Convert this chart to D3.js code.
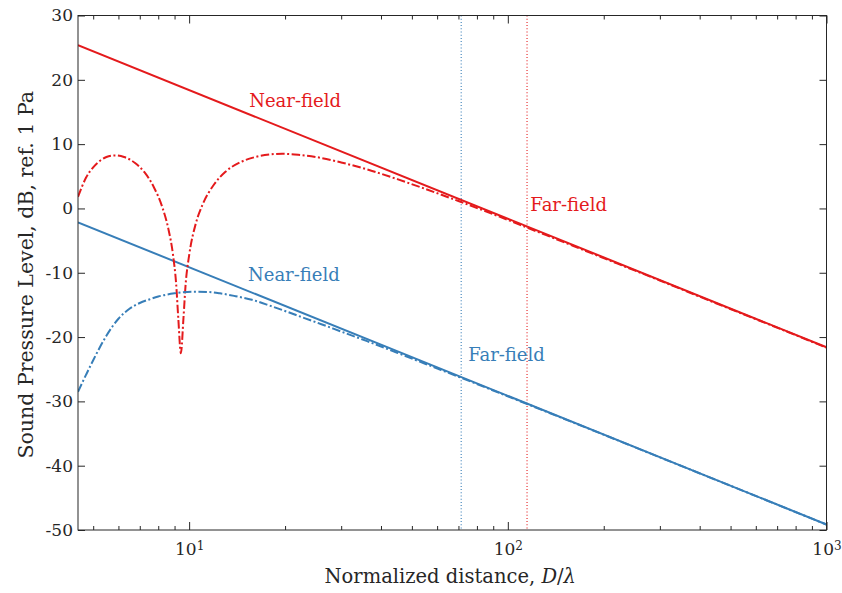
<!DOCTYPE html>
<html>
<head>
<meta charset="utf-8">
<script src="https://cdn.jsdelivr.net/npm/d3@7"></script>
<style>
  body { margin: 0; background: #fff; }
  text { font-family: "DejaVu Serif", serif; fill: #262626; }
</style>
</head>
<body>
<svg id="chart" width="842" height="593"></svg>
<script>
// Normalized on-axis distance D/lambda and sound pressure level (dB re 1 Pa)
const nearRedX  = [4.48, 4.75, 5.0, 5.25, 5.5, 5.86, 6.25, 6.75, 7.25, 7.75, 8.25, 8.6, 8.9, 9.1, 9.25, 9.42, 9.6, 9.75, 10, 10.5, 11, 12, 13, 14.5, 16, 18, 19.6, 22, 25, 30, 36, 45, 55, 70, 90, 120, 160, 220, 300, 450, 650, 1000];
const nearRedDb = [1.8, 4.8, 6.4, 7.4, 8.0, 8.25, 8.0, 7.1, 5.6, 3.3, 0.1, -3.1, -7.2, -11.6, -17.2, -22.5, -17.0, -11.8, -7.3, -2.3, 0.5, 3.8, 5.7, 7.2, 7.95, 8.4, 8.5, 8.35, 8.0, 7.15, 6.1, 4.55, 3.05, 1.15, -0.9, -3.35, -5.8, -8.55, -11.2, -14.75, -17.9, -21.65];

const nearBlueX  = [4.48, 4.75, 5.0, 5.5, 6.0, 6.5, 7.0, 7.5, 8.0, 9.0, 10.2, 11.5, 12.5, 14, 15.74, 18, 20, 23, 26, 30, 36, 45, 55, 70, 90, 120, 160, 220, 300, 450, 650, 1000];
const nearBlueDb = [-28.5, -25.85, -23.6, -19.8, -17.15, -15.6, -14.7, -14.15, -13.7, -13.2, -12.95, -13.0, -13.2, -13.65, -14.2, -15.15, -15.95, -17.05, -18.0, -19.15, -20.6, -22.45, -24.15, -26.17, -28.31, -30.78, -33.26, -36.01, -38.7, -42.21, -45.41, -49.15];

const farX      = [4.48, 1000];
const farRedDb  = [25.38, -21.59];
const farBlueDb = [-2.17, -49.14];

// Far-field transition distances (red, blue)
const transitionX = [114.9, 71.4];

const yTicks = [-50, -40, -30, -20, -10, 0, 10, 20, 30];
const xTicks = [10, 100, 1000];
const xTickExp = ["1", "2", "3"];
const xMinor = [5, 6, 7, 8, 9, 20, 30, 40, 50, 60, 70, 80, 90, 200, 300, 400, 500, 600, 700, 800, 900];

const labels = [
  { text: "Near-field", x: 15.43, y: 16.7,  color: "red" },
  { text: "Far-field",  x: 117.7, y: 0.55,  color: "red" },
  { text: "Near-field", x: 15.3,  y: -10.35, color: "blue" },
  { text: "Far-field",  x: 75.1,  y: -22.8, color: "blue" }
];

const colors = { red: "#e41a1c", blue: "#377eb8" };

const svg = d3.select("#chart");
const plotLeft = 78, plotRight = 826.5, plotTop = 15.5, plotBottom = 530;

const x = d3.scaleLog().domain([4.48, 1000]).range([plotLeft, plotRight]);
const y = d3.scaleLinear().domain([-50, 30]).range([plotBottom, plotTop]);

svg.append("clipPath").attr("id", "clip")
  .append("rect").attr("x", plotLeft).attr("y", plotTop)
  .attr("width", plotRight - plotLeft).attr("height", plotBottom - plotTop);

const lines = svg.append("g").attr("clip-path", "url(#clip)");

// vertical far-field boundaries
const vColors = [colors.red, colors.blue];
transitionX.forEach((d, i) => {
  lines.append("line")
    .attr("x1", x(d)).attr("x2", x(d))
    .attr("y1", plotTop).attr("y2", plotBottom)
    .attr("stroke", vColors[i]).attr("stroke-width", 1.1)
    .attr("stroke-dasharray", "1,2.2");
});

const lineGen = d3.line().x(d => x(d[0])).y(d => y(d[1])).curve(d3.curveMonotoneX);
const zip = (a, b) => a.map((v, i) => [v, b[i]]);

function drawSeries(xs, ys, color, dashed) {
  lines.append("path")
    .datum(zip(xs, ys))
    .attr("d", lineGen)
    .attr("fill", "none")
    .attr("stroke", color)
    .attr("stroke-width", 2)
    .attr("stroke-dasharray", dashed ? "8.5,2.5,2,2.5" : null);
}

drawSeries(farX, farRedDb, colors.red, false);
drawSeries(farX, farBlueDb, colors.blue, false);
drawSeries(nearRedX, nearRedDb, colors.red, true);
drawSeries(nearBlueX, nearBlueDb, colors.blue, true);

// axes
const axisColor = "#262626";
function styleAxis(g) {
  g.select(".domain").remove();
  g.selectAll(".tick line").attr("stroke", axisColor).attr("stroke-width", 1);
  g.selectAll("text").attr("fill", axisColor).style("font-size", "17px").style("font-family", '"DejaVu Serif", serif');
}

svg.append("g").attr("transform", `translate(${plotLeft},0)`)
  .call(d3.axisLeft(y).tickValues(yTicks).tickSize(-7).tickPadding(5).tickFormat(d => String(d)))
  .call(styleAxis);
svg.append("g").attr("transform", `translate(${plotRight},0)`)
  .call(d3.axisRight(y).tickValues(yTicks).tickSize(-7).tickFormat(""))
  .call(styleAxis);

const xb = svg.append("g").attr("transform", `translate(0,${plotBottom})`)
  .call(d3.axisBottom(x).tickValues(xTicks).tickSize(-8).tickPadding(13).tickFormat(() => ""))
  .call(styleAxis);
xb.selectAll(".tick text").each(function(d, i) {
  const t = d3.select(this);
  t.text(null).attr("text-anchor", "middle").attr("dy", "0.71em");
  t.append("tspan").text("10");
  t.append("tspan").attr("dy", "-0.45em").style("font-size", "12px").text(xTickExp[i]);
});
svg.append("g").attr("transform", `translate(0,${plotBottom})`)
  .call(d3.axisBottom(x).tickValues(xMinor).tickSize(-4).tickFormat(""))
  .call(styleAxis);
svg.append("g").attr("transform", `translate(0,${plotTop})`)
  .call(d3.axisTop(x).tickValues(xTicks).tickSize(-8).tickFormat(""))
  .call(styleAxis);
svg.append("g").attr("transform", `translate(0,${plotTop})`)
  .call(d3.axisTop(x).tickValues(xMinor).tickSize(-4).tickFormat(""))
  .call(styleAxis);

// frame
svg.append("rect")
  .attr("x", plotLeft).attr("y", plotTop)
  .attr("width", plotRight - plotLeft).attr("height", plotBottom - plotTop)
  .attr("fill", "none").attr("stroke", axisColor).attr("stroke-width", 1);

// series annotations
svg.append("g").selectAll("text").data(labels).join("text")
  .attr("x", d => x(d.x)).attr("y", d => y(d.y))
  .attr("dy", "0.35em")
  .style("font-size", "18px")
  .style("fill", d => colors[d.color])
  .text(d => d.text);

// axis titles
const xTitle = svg.append("text")
  .attr("x", (plotLeft + plotRight) / 2 - 2).attr("y", 583)
  .attr("text-anchor", "middle").style("font-size", "19.5px");
xTitle.append("tspan").text("Normalized distance, ");
xTitle.append("tspan").style("font-style", "italic").text("D");
xTitle.append("tspan").text("/");
xTitle.append("tspan").style("font-style", "italic").text("λ");

svg.append("text")
  .attr("transform", `translate(33,${(plotTop + plotBottom) / 2 + 2}) rotate(-90)`)
  .attr("text-anchor", "middle").style("font-size", "20.5px")
  .text("Sound Pressure Level, dB, ref. 1 Pa");
</script>
</body>
</html>
